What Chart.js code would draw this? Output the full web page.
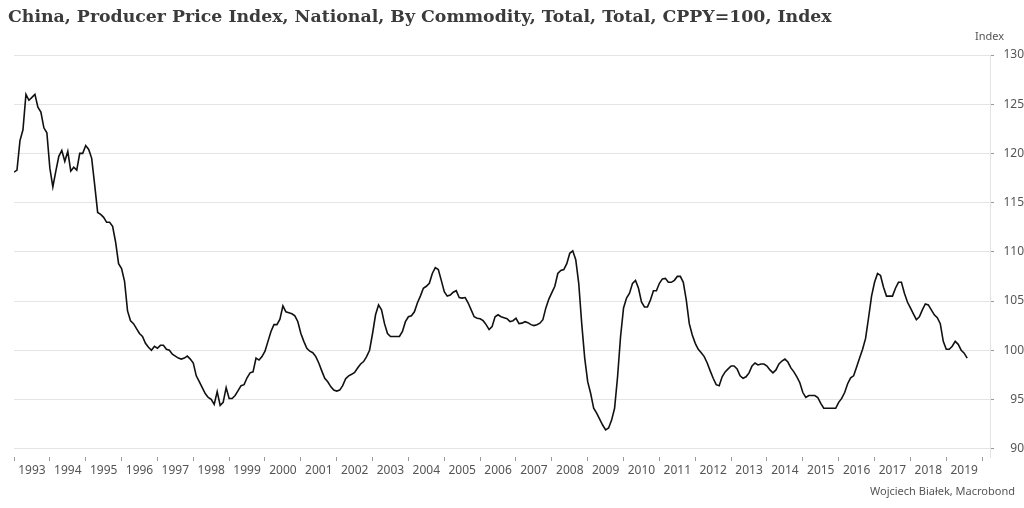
<!DOCTYPE html>
<html>
<head>
<meta charset="utf-8">
<script src="https://cdn.jsdelivr.net/npm/chart.js@4.4.1/dist/chart.umd.min.js"></script>
<style>
  html, body { margin: 0; padding: 0; background: #fff; }
  #wrap { width: 1024px; height: 508px; }
</style>
</head>
<body>
<div id="wrap"><canvas id="ppiChart" width="1024" height="508"></canvas></div>
<script>
/* =========================
   DATI
========================= */
const chartTitle = "China, Producer Price Index, National, By Commodity, Total, Total, CPPY=100, Index";
const unitLabel = "Index";
const sourceLabel = "Wojciech Białek, Macrobond";

const firstYear = 1993;
const yearLabels = [1993, 1994, 1995, 1996, 1997, 1998, 1999, 2000, 2001, 2002, 2003, 2004, 2005,
  2006, 2007, 2008, 2009, 2010, 2011, 2012, 2013, 2014, 2015, 2016, 2017, 2018, 2019];
const yTicks = [90, 95, 100, 105, 110, 115, 120, 125, 130];

// monthly values, Jan 1993 - Dec 1999
const ppi1990s = [
  118.1, 118.3, 121.3, 122.4, 126.0, 125.4, 125.7, 126.0, 124.7, 124.2, 122.6, 122.1,
  118.5, 116.6, 118.2, 119.7, 120.3, 119.2, 120.2, 118.2, 118.6, 118.3, 120.0, 120.0,
  120.8, 120.4, 119.5, 116.8, 114.0, 113.8, 113.5, 113.0, 113.0, 112.6, 111.0, 108.8,
  108.3, 107.0, 104.0, 103.0, 102.7, 102.2, 101.7, 101.4, 100.7, 100.3, 100.0, 100.4,
  100.2, 100.5, 100.5, 100.1, 100.0, 99.6, 99.4, 99.2, 99.1, 99.2, 99.4, 99.1,
  98.7, 97.4, 96.8, 96.2, 95.6, 95.2, 95.0, 94.5, 95.8, 94.4, 94.7, 96.2,
  95.1, 95.1, 95.4, 95.9, 96.4, 96.5, 97.2, 97.7, 97.8, 99.2, 99.0, 99.35
];
// Jan 2000 - Dec 2009
const ppi2000s = [
  99.9, 100.9, 101.9, 102.6, 102.6, 103.15, 104.5, 103.9, 103.8, 103.7, 103.5, 102.9,
  101.7, 100.9, 100.2, 99.9, 99.75, 99.35, 98.7, 97.9, 97.15, 96.8, 96.3, 95.95,
  95.85, 95.95, 96.4, 97.1, 97.4, 97.55, 97.75, 98.2, 98.6, 98.85, 99.35, 100.0,
  101.7, 103.6, 104.6, 104.1, 102.7, 101.7, 101.4, 101.4, 101.4, 101.4, 101.9, 102.9,
  103.4, 103.5, 103.9, 104.8, 105.5, 106.3, 106.5, 106.8, 107.8, 108.4, 108.2, 107.1,
  105.95, 105.5, 105.6, 105.9, 106.05, 105.35, 105.3, 105.35, 104.8, 104.1, 103.4, 103.25,
  103.2, 103.0, 102.6, 102.1, 102.4, 103.4, 103.6, 103.4, 103.3, 103.2, 102.9, 103.0,
  103.25, 102.7, 102.75, 102.9, 102.8, 102.6, 102.5, 102.6, 102.75, 103.1, 104.3, 105.2,
  105.85, 106.5, 107.8, 108.1, 108.2, 108.8, 109.85, 110.1, 109.2, 106.8, 102.7, 99.2,
  96.8, 95.6, 94.1, 93.6, 93.0, 92.4, 91.9, 92.1, 92.9, 94.1, 97.3, 101.4
];
// Jan 2010 - Aug 2019
const ppi2010s = [
  104.3, 105.3, 105.8, 106.8, 107.1, 106.3, 104.9, 104.4, 104.4, 105.1, 106.05, 106.05,
  106.8, 107.25, 107.3, 106.9, 106.9, 107.1, 107.5, 107.5, 106.9, 105.1, 102.7, 101.55,
  100.7, 100.1, 99.75, 99.35, 98.7, 97.9, 97.15, 96.5, 96.4, 97.3, 97.8, 98.1,
  98.4, 98.4, 98.1, 97.4, 97.15, 97.3, 97.7, 98.4, 98.7, 98.5, 98.6, 98.6,
  98.4, 98.0, 97.7, 98.0, 98.6, 98.9, 99.1, 98.8, 98.2, 97.8, 97.3, 96.7,
  95.7, 95.2, 95.4, 95.4, 95.4, 95.2, 94.6, 94.1, 94.1, 94.1, 94.1, 94.1,
  94.7, 95.1, 95.7, 96.6, 97.2, 97.4, 98.3, 99.2, 100.1, 101.2, 103.3, 105.5,
  106.9, 107.8, 107.6, 106.4, 105.5, 105.5, 105.5, 106.3, 106.9, 106.9, 105.8, 104.9,
  104.3, 103.7, 103.1, 103.4, 104.1, 104.7, 104.6, 104.1, 103.6, 103.3, 102.7, 100.9,
  100.1, 100.1, 100.4, 100.9, 100.6, 100.0, 99.7, 99.2
];

const ppi = [...ppi1990s, ...ppi2000s, ...ppi2010s];
const points = ppi.map((v, i) => ({ x: firstYear + i / 12, y: v }));

/* =========================
   TESTI (titolo, unità, fonte)
========================= */
const textPlugin = {
  id: "texts",
  afterDraw(chart) {
    const c = chart.ctx;
    c.save();
    c.textBaseline = "middle";
    c.fillStyle = "#3b3b3b";
    let size = 17;
    c.font = "bold " + size + "px 'DejaVu Serif'";
    const w = c.measureText(chartTitle).width;
    size = size * 824 / w;
    c.font = "bold " + size.toFixed(2) + "px 'DejaVu Serif'";
    c.textAlign = "left";
    c.fillText(chartTitle, 8, 17);

    c.fillStyle = "#555";
    c.font = "11px 'Noto Sans'";
    c.textAlign = "right";
    c.fillText(unitLabel, 1004, 37);
    c.fillText(sourceLabel, 1015, 492);
    c.restore();
  }
};

/* =========================
   GRAFICO
========================= */
const tickFont = { family: "'Noto Sans'", size: 12 };

new Chart(document.getElementById("ppiChart"), {
  type: "line",
  data: {
    datasets: [{
      data: points,
      borderColor: "#111",
      borderWidth: 1.6,
      pointRadius: 0,
      tension: 0
    }]
  },
  options: {
    responsive: false,
    animation: false,
    devicePixelRatio: 1,
    layout: { padding: { top: 55, left: 14, right: 0, bottom: 0 } },
    plugins: {
      legend: { display: false },
      tooltip: { enabled: false }
    },
    scales: {
      x: {
        type: "linear",
        min: 1993,
        max: 2020.22,
        afterBuildTicks(scale) {
          const t = [];
          yearLabels.forEach(y => { t.push({ value: y }); t.push({ value: y + 0.5 }); });
          t.push({ value: yearLabels[yearLabels.length - 1] + 1 });
          scale.ticks = t;
        },
        afterFit(scale) { scale.height = 51; },
        border: { display: false },
        grid: {
          drawOnChartArea: false,
          drawTicks: true,
          tickLength: 4,
          color: ctx => (ctx.tick && Number.isInteger(ctx.tick.value)) ? "#9a9a9a" : "rgba(0,0,0,0)"
        },
        ticks: {
          autoSkip: false,
          maxRotation: 0,
          padding: 2,
          color: "#555",
          font: tickFont,
          callback: v => Number.isInteger(v) ? "" : String(Math.floor(v))
        }
      },
      y: {
        position: "right",
        min: 89.15,
        max: 130,
        afterBuildTicks(scale) { scale.ticks = yTicks.map(v => ({ value: v })); },
        afterFit(scale) { scale.width = 34; },
        border: { display: true, color: "#e4e4e4" },
        grid: { color: "#e4e4e4", tickColor: "#9a9a9a", tickLength: 4 },
        ticks: {
          color: "#555",
          font: tickFont,
          padding: 2,
          crossAlign: "far"
        }
      }
    }
  },
  plugins: [textPlugin]
});
</script>
</body>
</html>
